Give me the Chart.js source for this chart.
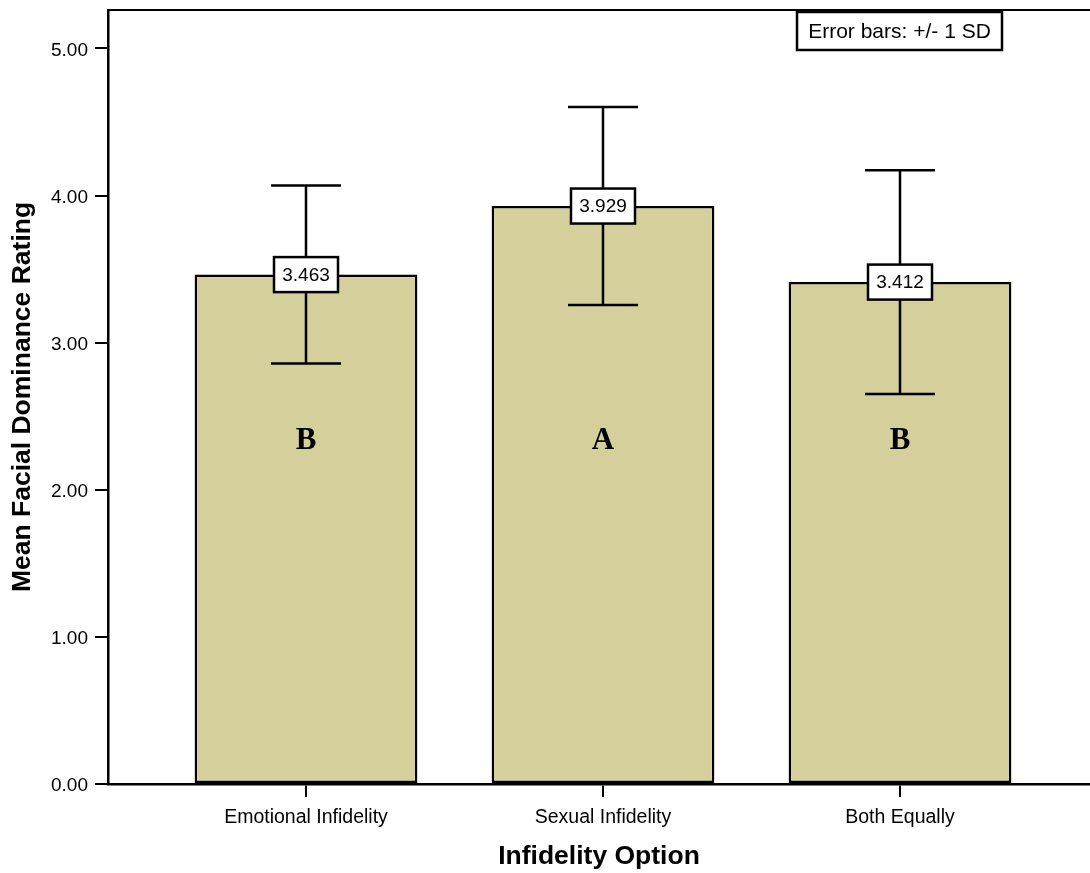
<!DOCTYPE html>
<html>
<head>
<meta charset="utf-8">
<script src="https://cdn.jsdelivr.net/npm/chart.js@4.4.1/dist/chart.umd.min.js"></script>
<style>
  html, body { margin: 0; padding: 0; background: #fff; overflow: hidden; }
  #wrap { width: 1090px; height: 873px; position: relative; }
</style>
</head>
<body>
<div id="wrap"><canvas id="c" width="1090" height="873"></canvas></div>
<script>
// ---- data ----
const categories = ['Emotional Infidelity', 'Sexual Infidelity', 'Both Equally'];
const means = [3.463, 3.929, 3.412];
const sds = [0.605, 0.673, 0.760];
const groupLetters = ['B', 'A', 'B'];
const yTicks = [0, 1, 2, 3, 4, 5];
const noteText = 'Error bars: +/- 1 SD';
const xTitle = 'Infidelity Option';
const yTitle = 'Mean Facial Dominance Rating';

const SANS = '"Liberation Sans", Arial, Helvetica, sans-serif';
const SERIF = '"Liberation Serif", "Times New Roman", serif';

const overlay = {
  id: 'overlay',
  afterDatasetsDraw(chart) {
    const ctx = chart.ctx;
    const xs = chart.scales.x, ys = chart.scales.y;
    const cap = 35;
    ctx.save();
    // error bars
    ctx.strokeStyle = '#000';
    ctx.lineWidth = 2.5;
    means.forEach((m, i) => {
      const x = xs.getPixelForValue(i + 1);
      const yHi = ys.getPixelForValue(m + sds[i]);
      const yLo = ys.getPixelForValue(m - sds[i]);
      ctx.beginPath();
      ctx.moveTo(x, yHi); ctx.lineTo(x, yLo);
      ctx.moveTo(x - cap, yHi); ctx.lineTo(x + cap, yHi);
      ctx.moveTo(x - cap, yLo); ctx.lineTo(x + cap, yLo);
      ctx.stroke();
    });
    // value boxes
    ctx.font = '19px ' + SANS;
    ctx.textAlign = 'center';
    ctx.textBaseline = 'middle';
    means.forEach((m, i) => {
      const x = xs.getPixelForValue(i + 1);
      const y = ys.getPixelForValue(m);
      const w = 64, h = 35;
      ctx.fillStyle = '#fff';
      ctx.fillRect(x - w / 2, y - h / 2, w, h);
      ctx.lineWidth = 2.5;
      ctx.strokeStyle = '#000';
      ctx.strokeRect(x - w / 2, y - h / 2, w, h);
      ctx.fillStyle = '#000';
      ctx.fillText(m.toFixed(3), x, y + 1);
    });
    // group letters
    ctx.font = 'bold 31px ' + SERIF;
    groupLetters.forEach((L, i) => {
      const x = xs.getPixelForValue(i + 1);
      const y = ys.getPixelForValue(2.34);
      ctx.fillText(L, x, y + 1);
    });
    ctx.restore();
  },
  afterDraw(chart) {
    const ctx = chart.ctx;
    const a = chart.chartArea;
    ctx.save();
    ctx.strokeStyle = '#000';
    ctx.lineWidth = 2;
    ctx.beginPath();
    ctx.moveTo(a.left - 1, a.top);
    ctx.lineTo(a.right, a.top);
    ctx.stroke();
    // note box
    const bx = 797, by = 12, bw = 205, bh = 38;
    ctx.fillStyle = '#fff';
    ctx.fillRect(bx, by, bw, bh);
    ctx.lineWidth = 2.5;
    ctx.strokeRect(bx, by, bw, bh);
    ctx.fillStyle = '#000';
    ctx.font = '21px ' + SANS;
    ctx.textAlign = 'center';
    ctx.textBaseline = 'middle';
    ctx.fillText(noteText, bx + bw / 2, by + bh / 2 + 1);
    ctx.restore();
  }
};

new Chart(document.getElementById('c'), {
  type: 'bar',
  data: {
    datasets: [{
      data: means.map((m, i) => ({ x: i + 1, y: m })),
      backgroundColor: '#D4CF9B',
      borderColor: '#000',
      borderWidth: 2.5,
      borderSkipped: false,
      categoryPercentage: 1.0,
      barPercentage: 0.75
    }]
  },
  options: {
    responsive: false,
    animation: false,
    layout: { padding: { top: 10, right: 0, bottom: 0, left: 0 } },
    plugins: { legend: { display: false }, tooltip: { enabled: false } },
    scales: {
      x: {
        type: 'linear',
        offset: false,
        min: 1 - 198 / 297,
        max: 3 + 190 / 297,
        afterBuildTicks: (s) => { s.ticks = categories.map((c, i) => ({ value: i + 1 })); },
        afterFit: (s) => { s.height = 89; s.paddingLeft = 0; s.paddingRight = 0; },
        grid: { display: true, offset: false, drawOnChartArea: false, drawTicks: true, tickLength: 13, color: '#000', lineWidth: 2 },
        border: { display: true, color: '#000', width: 2.5 },
        ticks: {
          color: '#000',
          padding: 9,
          maxRotation: 0,
          autoSkip: false,
          font: { family: SANS, size: 19.5 },
          callback: (v) => categories[Math.round(v) - 1] || ''
        },
        title: {
          display: true, text: xTitle, color: '#000',
          font: { family: SANS, size: 26.5, weight: 'bold' },
          padding: { top: 0, bottom: 0 }
        }
      },
      y: {
        min: 0,
        max: 5.2617,
        afterBuildTicks: (s) => { s.ticks = yTicks.map(v => ({ value: v })); },
        afterFit: (s) => { s.width = 108; s.paddingTop = 0; s.paddingBottom = 0; },
        grid: { display: true, drawOnChartArea: false, drawTicks: true, tickLength: 13, color: '#000', lineWidth: 2 },
        border: { display: true, color: '#000', width: 2.5 },
        ticks: {
          color: '#000',
          padding: 7,
          labelOffset: 2,
          font: { family: SANS, size: 19 },
          callback: (v) => Number(v).toFixed(2)
        },
        title: {
          display: true, text: yTitle, color: '#000',
          font: { family: SANS, size: 26.5, weight: 'bold' },
          padding: { top: 7, bottom: 0 }
        }
      }
    }
  },
  plugins: [overlay]
});
</script>
</body>
</html>
